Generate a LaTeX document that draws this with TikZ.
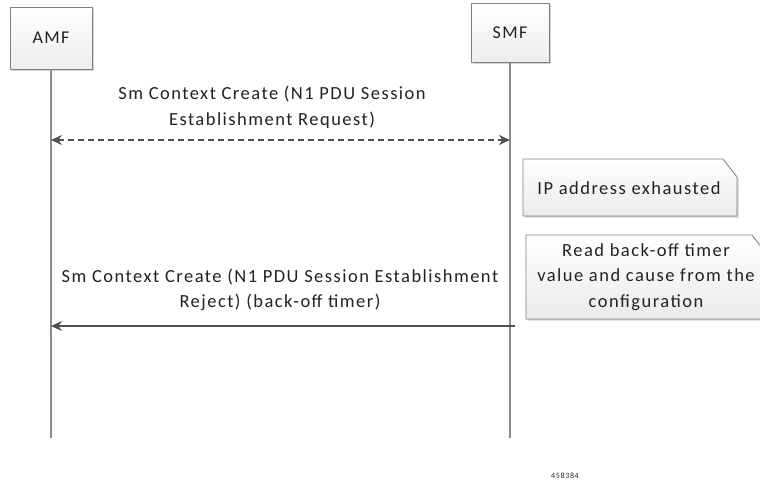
\documentclass[tikz,border=0pt]{standalone}
\usepackage{fontspec}
\setmainfont[LetterSpace=8]{Carlito}
\usetikzlibrary{arrows.meta,shadows}
\definecolor{lifegray}{HTML}{8C8C8C}
\definecolor{msggray}{HTML}{505050}
\definecolor{txtgray}{HTML}{222222}
\begin{document}
\begin{tikzpicture}[x=1pt,y=-1pt,
  entity/.style={draw=gray,line width=0.8pt,top color=white,bottom color=gray!14,
    drop shadow={shadow xshift=1.5pt,shadow yshift=-1.5pt,opacity=0.35},
    font=\fontsize{18}{21}\selectfont,text=txtgray},
  note/.style={draw=gray,line width=0.8pt,top color=white,bottom color=gray!16,
    drop shadow={shadow xshift=1.5pt,shadow yshift=-1.5pt,opacity=0.35}},
  notetext/.style={font=\fontsize{18.5}{25.5}\selectfont,text=txtgray,align=center},
  lifeline/.style={draw=lifegray,line width=1.6pt},
  msg/.style={draw=msggray,line width=1.5pt},
  msgtext/.style={font=\fontsize{18.5}{25.5}\selectfont,text=txtgray,align=center}]
\useasboundingbox (0,0) rectangle (760,483);

% Entities and lifelines
\node[entity,minimum width=82pt,minimum height=62pt] (amf) at (51,38) {AMF};
\node[entity,minimum width=78pt,minimum height=59pt] (smf) at (510,33) {SMF};
\coordinate (amf-end) at (51,438);
\coordinate (smf-end) at (510,438);
\draw[lifeline] (amf) -- (amf-end);
\draw[lifeline] (smf) -- (smf-end);

% Establishment request
\coordinate (req-amf) at (51,140);
\coordinate (req-smf) at (510,140);
\draw[msg,dash pattern=on 6pt off 4pt,{Stealth[length=11pt,width=10pt]}-{Stealth[length=11pt,width=10pt]}] (req-amf) -- (req-smf);
\node[msgtext] (req) at (272,107) {Sm Context Create (N1 PDU Session\\Establishment Request)};

% Notes at SMF
\path[note] (523,159) -- (723,159) -- (737,177) -- (737,216) -- (523,216) -- cycle;
\node[notetext] (exhaust) at (629,188) {IP address exhausted};
\path[note] (526,235) -- (752,235) -- (766,253) -- (766,319) -- (526,319) -- cycle;
\node[notetext] (backoff) at (646,277) {Read back-off timer\\value and cause from the\\configuration};

% Establishment reject
\coordinate (rej-smf) at (515,326);
\coordinate (rej-amf) at (51,326);
\draw[msg,-{Stealth[length=11pt,width=10pt]}] (rej-smf) -- (rej-amf);
\node[msgtext] (rej) at (280,290) {Sm Context Create (N1 PDU Session Establishment\\Reject) (back-off timer)};

% Figure number
\node[font=\fontsize{8}{9}\selectfont,text=txtgray] (figid) at (565,476) {458384};
\end{tikzpicture}
\end{document}
